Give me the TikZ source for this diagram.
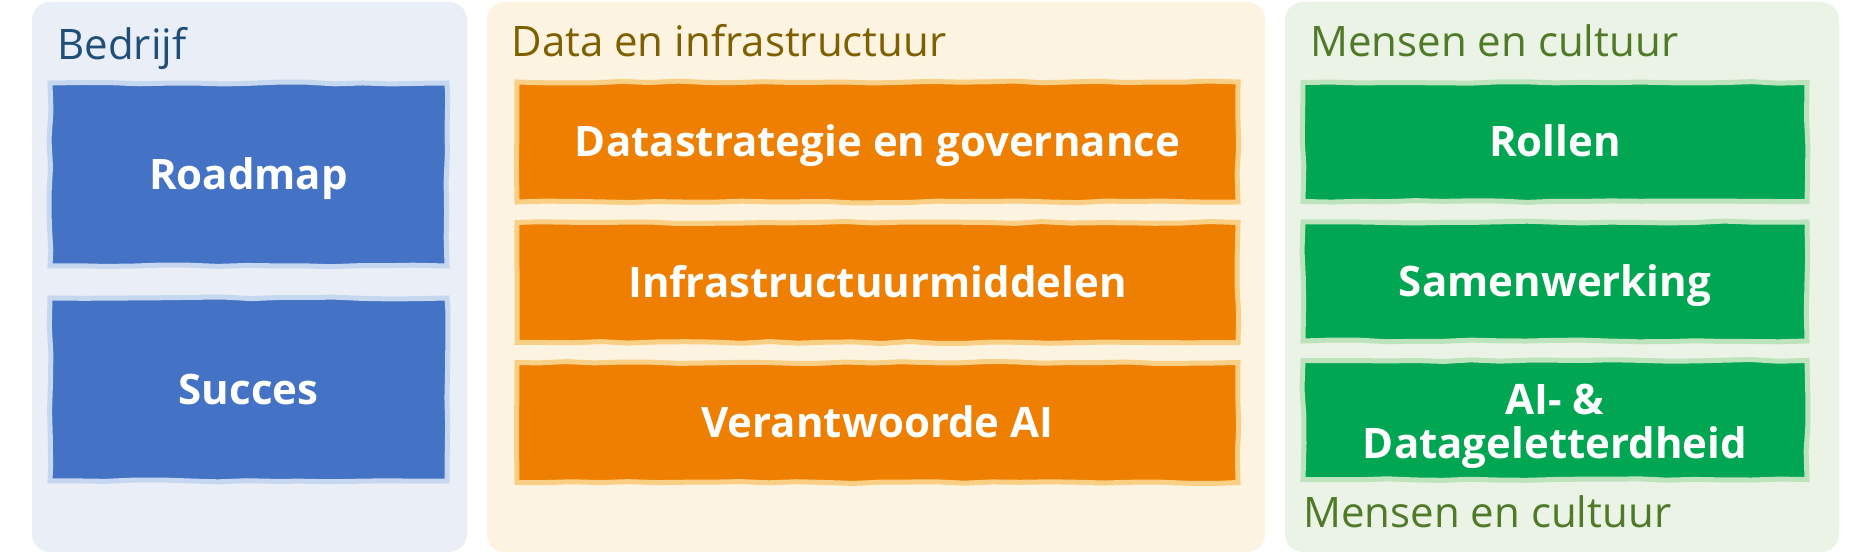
\documentclass[tikz,border=0pt]{standalone}
\usepackage{fontspec}
\setmainfont{Open Sans}
\usetikzlibrary{decorations.pathmorphing}
\definecolor{pblue}{HTML}{E9EEF7}
\definecolor{pcream}{HTML}{FDF3E1}
\definecolor{pgreen}{HTML}{EAF3E6}
\definecolor{bblue}{HTML}{4472C4}
\definecolor{bblueedge}{HTML}{C6D7F0}
\definecolor{borange}{HTML}{EE7F00}
\definecolor{borangeedge}{HTML}{F9CF85}
\definecolor{bgreen}{HTML}{00A651}
\definecolor{bgreenedge}{HTML}{BDE3BC}
\definecolor{tblue}{HTML}{1F4E79}
\definecolor{tolive}{HTML}{7F6000}
\definecolor{tgreen}{HTML}{4F7A28}
\tikzset{
  panel/.style={rounded corners=9pt, draw=none},
  tiletext/.style={inner sep=0pt, font=\fontsize{21}{25}\selectfont\bfseries, text=white, align=center},
  tile/.style={rectangle, tiletext, text height=15pt, text depth=0pt,
    line width=2.5pt, decorate, decoration={random steps, segment length=14pt, amplitude=0.5pt}},
  bluetile/.style={tile, fill=bblue, draw=bblueedge, minimum width=198.5pt, minimum height=91.5pt},
  orangetile/.style={tile, fill=borange, draw=borangeedge, minimum width=360.5pt, minimum height=60pt},
  greentile/.style={tile, fill=bgreen, draw=bgreenedge, minimum width=252pt, minimum height=59.5pt},
  ptitle/.style={anchor=base west, inner sep=0pt, font=\fontsize{21}{25}\selectfont},
}
\begin{document}
\begin{tikzpicture}[x=0.5pt, y=-0.5pt]
\pgfmathsetseed{7}
\fill[white] (0,0) rectangle (1854,560);
\useasboundingbox (0,0) rectangle (1854,560);
% panels
\fill[panel, pblue] (32,2) rectangle (467,552);
\fill[panel, pcream] (487,2) rectangle (1265,552);
\fill[panel, pgreen] (1285,2) rectangle (1839,552);
% titles
\node[ptitle, text=tblue] (t1) at (57,60) {Bedrijf};
\node[ptitle, text=tolive] (t2) at (511,57) {Data en infrastructuur};
\node[ptitle, text=tgreen] (t3) at (1310,57) {Mensen en cultuur};
\node[ptitle, text=tgreen] (t4) at (1303,528) {Mensen en cultuur};
% blue tiles
\node[bluetile] (roadmap) at (248.5,174.5) {Roadmap};
\node[bluetile] (succes) at (248.5,389.5) {Succes};
% orange tiles
\node[orangetile] (dsg) at (877.5,142) {Datastrategie en governance};
\node[orangetile] (infra) at (877.5,282.5) {Infrastructuurmiddelen};
\node[orangetile] (vai) at (877.5,422.5) {Verantwoorde AI};
% green tiles
\node[greentile] (rollen) at (1555,142) {Rollen};
\node[greentile] (samen) at (1555,281.5) {Samenwerking};
\node[greentile] (ailit) at (1555,420) {};
\node[tiletext, yshift=-3pt] (ailittext) at (ailit.center) {AI- \&\\[-3pt]Datageletterdheid};
\end{tikzpicture}
\end{document}
